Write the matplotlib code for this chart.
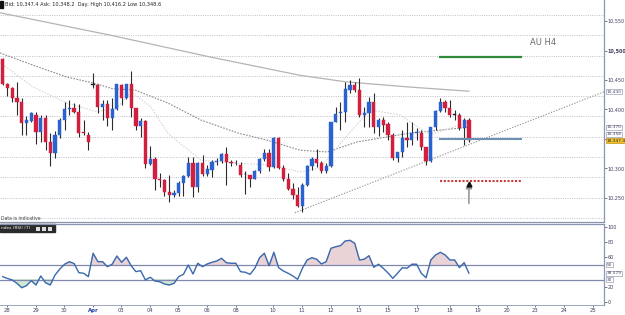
import matplotlib
matplotlib.use("Agg")
import matplotlib.pyplot as plt
import numpy as np

# ---------------- data (AU H4 candles) ----------------
opens = [10485, 10444, 10436, 10419, 10412, 10377, 10381, 10391, 10362, 10385,
         10345, 10326, 10357, 10382, 10401, 10403, 10396, 10362, 10357, 10442,
         10442, 10404, 10409, 10385, 10400, 10441, 10419, 10443, 10402, 10372,
         10381, 10307, 10316, 10283, 10280, 10261, 10255, 10258, 10275, 10287,
         10309, 10269, 10309, 10291, 10297, 10311, 10313, 10325, 10311, 10309,
         10306, 10290, 10289, 10283, 10295, 10316, 10327, 10302, 10351, 10300,
         10282, 10266, 10255, 10236, 10272, 10304, 10316, 10310, 10295, 10304,
         10379, 10394, 10395, 10433, 10441, 10433, 10391, 10394, 10413, 10370,
         10383, 10375, 10357, 10317, 10328, 10351, 10348, 10361, 10361, 10336,
         10313, 10370, 10398, 10413, 10402, 10391, 10391, 10368, 10383]
highs = [10488, 10445, 10438, 10446, 10419, 10389, 10396, 10396, 10391, 10391,
         10360, 10364, 10385, 10413, 10416, 10411, 10410, 10382, 10362, 10462,
         10443, 10416, 10416, 10419, 10444, 10444, 10444, 10466, 10403, 10385,
         10382, 10338, 10320, 10292, 10283, 10289, 10264, 10278, 10289, 10320,
         10320, 10311, 10323, 10306, 10314, 10317, 10326, 10337, 10314, 10314,
         10311, 10295, 10289, 10297, 10317, 10333, 10333, 10353, 10354, 10306,
         10292, 10276, 10269, 10275, 10306, 10319, 10333, 10312, 10309, 10379,
         10405, 10413, 10447, 10450, 10447, 10453, 10404, 10422, 10428, 10385,
         10388, 10379, 10360, 10328, 10366, 10379, 10378, 10368, 10365, 10337,
         10370, 10399, 10419, 10416, 10416, 10399, 10394, 10385, 10385]
lows = [10441, 10423, 10412, 10391, 10357, 10357, 10379, 10341, 10345, 10332,
        10304, 10317, 10351, 10365, 10391, 10394, 10353, 10357, 10332, 10436,
        10394, 10382, 10372, 10365, 10399, 10408, 10418, 10388, 10366, 10353,
        10300, 10306, 10264, 10269, 10253, 10244, 10252, 10253, 10253, 10286,
        10252, 10261, 10287, 10287, 10286, 10306, 10309, 10272, 10304, 10306,
        10286, 10257, 10269, 10282, 10293, 10313, 10295, 10300, 10299, 10279,
        10264, 10249, 10235, 10227, 10270, 10297, 10303, 10293, 10293, 10303,
        10378, 10365, 10379, 10428, 10430, 10388, 10371, 10370, 10360, 10355,
        10362, 10348, 10314, 10311, 10319, 10337, 10340, 10348, 10331, 10306,
        10311, 10365, 10396, 10396, 10388, 10383, 10365, 10340, 10345]
closes = [10444, 10436, 10419, 10412, 10377, 10382, 10394, 10362, 10385, 10345,
          10326, 10357, 10382, 10400, 10403, 10396, 10361, 10360, 10345, 10442,
          10404, 10409, 10385, 10400, 10443, 10419, 10443, 10402, 10372, 10381,
          10307, 10316, 10283, 10280, 10261, 10255, 10258, 10276, 10287, 10309,
          10269, 10309, 10291, 10299, 10311, 10313, 10325, 10311, 10309, 10310,
          10289, 10290, 10283, 10295, 10316, 10327, 10302, 10351, 10300, 10282,
          10266, 10255, 10236, 10272, 10304, 10316, 10310, 10295, 10304, 10379,
          10392, 10395, 10434, 10441, 10433, 10391, 10394, 10413, 10370, 10383,
          10374, 10357, 10317, 10328, 10351, 10348, 10361, 10362, 10336, 10313,
          10370, 10398, 10413, 10402, 10391, 10391, 10368, 10383, 10348]

rsi = [33.9, 31.5, 29.5, 25.1, 19.3, 22.0, 28.6, 22.9, 34.8, 25.9,
       22.9, 36.1, 44.0, 50.3, 53.7, 51.3, 39.2, 38.4, 33.9, 64.8,
       53.7, 53.7, 47.1, 50.3, 61.2, 52.9, 59.5, 48.4, 40.5, 41.8,
       29.5, 33.1, 28.2, 27.2, 24.2, 22.9, 25.1, 33.9, 37.0, 49.3,
       37.4, 51.6, 47.1, 50.7, 52.9, 54.6, 58.2, 52.4, 51.6, 51.6,
       40.5, 39.7, 37.0, 45.0, 59.0, 64.8, 48.4, 66.1, 45.8, 41.4,
       38.4, 34.8, 30.4, 45.0, 56.0, 59.0, 56.9, 50.7, 53.7, 71.4,
       73.5, 74.9, 81.1, 82.0, 78.0, 56.0, 56.9, 61.6, 46.3, 50.3,
       45.0, 38.8, 31.7, 38.4, 45.8, 45.0, 50.3, 50.3, 38.4, 32.5,
       56.0, 62.6, 66.1, 62.6, 56.0, 56.0, 45.8, 52.4, 38.6]

# moving averages read at a few bar positions
ma_long_idx = [-0.6, 22.6, 43.6, 62.5, 72.0, 85.6, 98.0]
ma_long = [10564, 10526, 10489, 10458, 10447, 10438, 10431]
ma_mid_idx = [-0.6, 6.4, 13.5, 19.0, 23.2, 27.8, 34.7, 41.7, 49.5, 55.6, 62.5, 68.2, 74.5, 85.6, 98.0]
ma_mid = [10496, 10475, 10455, 10445, 10435, 10433, 10411, 10382, 10360, 10348, 10331, 10328, 10345, 10360, 10370]
ma_short_idx = [-0.6, 6.4, 13.5, 19.8, 24.2, 27.0, 31.2, 34.7, 38.3, 41.7, 49.5, 56.2, 62.5, 66.7, 72.0, 77.2, 83.5, 89.8, 98.0]
ma_short = [10480, 10438, 10411, 10396, 10404, 10430, 10404, 10360, 10336, 10314, 10309, 10306, 10294, 10301, 10352, 10399, 10391, 10357, 10379]

trend_idx = [61.4, 126.4]
trend_price = [10225, 10430]

target_price = 10489.5
entry_price = 10349.5
stop_price = 10279.3
level_idx = [91.9, 109.0]
arrow_idx = 98
arrow_from, arrow_to = 10241, 10277

price_ticks = [10250, 10300, 10350, 10400, 10450, 10500, 10550]
price_labels = ["10,250", "10,300", "", "10,400", "10,450", "10,500", "10,550"]
date_pos = [0.9, 7.0, 12.9, 19.0, 24.9, 31.0, 36.9, 43.0, 49.0, 56.8, 62.9, 69.0, 74.9, 81.0, 87.1, 94.0, 99.9, 106.0, 111.9, 118.0, 124.1]
date_labels = ["28", "29", "30", "Apr", "03", "04", "05", "06", "08", "10", "11", "12", "13", "15", "17", "18", "19", "20", "23", "24", "25"]
rsi_ticks = [0, 20, 60, 80, 100]

header = "Bid: 10,347.4 Ask: 10,348.2  Day: High 10,416.2 Low 10,348.6"

# ---------------- figure ----------------
W, H = 625, 315
fig = plt.figure(figsize=(W / 100, H / 100), dpi=100)
fig.patch.set_facecolor("white")
plt.rcParams['font.family'] = ['DejaVu Sans']

def fy(py):  # pixel-from-top -> figure fraction
    return 1 - py / H

ax = fig.add_axes([0, fy(221), 604 / W, 221 / H])
ar = fig.add_axes([0, fy(305), 604 / W, 81 / H])

x = np.arange(len(opens))
o = np.array(opens, float); c = np.array(closes, float)
h = np.array(highs, float); l = np.array(lows, float)

bull = "#2a62cf"; bear = "#d21f3e"
cols = []
for oo, cc in zip(o, c):
    if cc > oo:
        cols.append(bull)
    elif cc < oo:
        cols.append(bear)
    else:
        cols.append("#202020")

ax.vlines(x, l, h, colors="#2b2b2b", linewidth=0.8, zorder=3)
body_b = np.minimum(o, c)
body_h = np.maximum(np.abs(c - o), 0.9)
ax.bar(x, body_h, bottom=body_b, width=0.68, color=cols, edgecolor=cols, linewidth=0.3, zorder=4)

# grid
for gp in np.arange(10216.1, 10580, 34.42):
    ax.axhline(gp, color="#b8b8c8", linestyle=(0, (1.2, 1.5)), linewidth=0.6, zorder=1)

# MAs
ax.plot(ma_long_idx, ma_long, color="#b4b4b4", linewidth=0.9, zorder=2)
ax.plot(ma_mid_idx, ma_mid, color="#8a8a8a", linewidth=0.8, linestyle=(0, (1.5, 1.2)), zorder=2)
ax.plot(ma_short_idx, ma_short, color="#d6d6d6", linewidth=0.8, linestyle=(0, (1.5, 1.2)), zorder=2)
ax.plot(trend_idx, trend_price, color="#9a9a9a", linewidth=0.8, linestyle=(0, (1.2, 1.3)), zorder=2)

ax.plot(level_idx, [target_price] * 2, color="#2f8a3a", linewidth=1.6, zorder=5)
ax.plot(level_idx, [entry_price] * 2, color="#6f8fb3", linewidth=1.5, zorder=5)
ax.plot(level_idx, [stop_price] * 2, color="#c83c3c", linewidth=1.5, linestyle=(0, (1, 0.8)), zorder=5)
ax.annotate("", xy=(arrow_idx, arrow_to), xytext=(arrow_idx, arrow_from),
            arrowprops=dict(arrowstyle="-|>,head_length=0.35,head_width=0.18", color="#9a9a9a", lw=1.2,
                            shrinkA=0, shrinkB=0), zorder=6)
ax.plot([arrow_idx], [arrow_to - 2.5], marker="^", color="#111111", markersize=3.5, zorder=7)

ax.text(110.8, 10514, "AU H4", fontsize=6, color="#6a6a6a", va="center", ha="left")

xl = (-0.57, 126.4)
ax.set_xlim(*xl)
ax.set_ylim(10211, 10585.6)
ax.yaxis.tick_right()
ax.set_yticks(price_ticks)
ax.set_yticklabels(price_labels)
ax.tick_params(axis="y", labelsize=3.5, colors="#404060", length=1.8, width=0.5, pad=0.8)
for tl in ax.get_yticklabels():
    if tl.get_text() == "10,500":
        tl.set_fontweight("bold")
ax.set_xticks([])
for s in ["left", "top", "bottom"]:
    ax.spines[s].set_visible(False)
ax.spines["right"].set_color("#8a96b4")
ax.spines["right"].set_linewidth(0.9)

# header
fig.patches.append(plt.Rectangle((0, fy(8)), 3 / W, 7 / H, transform=fig.transFigure, color="#111111"))
fig.text(5 / W, fy(4.5), header, fontsize=3.6, color="#222222", va="center", ha="left")
fig.text(1 / W, fy(218), "Data is indicative", fontsize=3.3, color="#444444", va="center", ha="left")

# right-hand value boxes
def vbox(axis, yv, txt, fc="white", ec="#9aa0b0", tc="#404060"):
    axis.text(1.0045, yv, txt, transform=axis.get_yaxis_transform(), fontsize=3.1, color=tc,
              va="center", ha="left", clip_on=False,
              bbox=dict(boxstyle="square,pad=0.12", fc=fc, ec=ec, lw=0.5))

vbox(ax, 10430, "10,430")
vbox(ax, 10370, "10,370")
vbox(ax, 10358, "10,358")
vbox(ax, 10347.4, "10,347.4", fc="#f2c230", ec="#c09010", tc="#202020")

# separator
fig.add_artist(plt.Line2D([0, 604 / W], [fy(221.8), fy(221.8)], color="#8894b0", linewidth=0.9))
fig.add_artist(plt.Line2D([0, 604 / W], [fy(223.6), fy(223.6)], color="#8894b0", linewidth=0.9))

# ---------------- RSI ----------------
r = np.array(rsi, float)
ar.fill_between(x, r, 50, where=r > 50, interpolate=True, color="#ead3d6", zorder=1)
ar.fill_between(x, r, 30, where=r < 30, interpolate=True, color="#d3e8d3", zorder=1)
ar.plot(x, r, color="#3a6aae", linewidth=1.0, zorder=3)
ar.axhline(50, color="#8088b0", linewidth=0.9, zorder=2)
ar.axhline(30, color="#8088b0", linewidth=0.9, zorder=2)
ar.set_xlim(*xl)
ar.set_ylim(-3.6, 103.6)
ar.yaxis.tick_right()
ar.set_yticks(rsi_ticks)
ar.tick_params(axis="y", labelsize=3.5, colors="#404060", length=1.8, width=0.5, pad=0.8)
ar.set_xticks(date_pos)
ar.set_xticklabels(date_labels)
ar.tick_params(axis="x", labelsize=3.8, colors="#404060", length=1.5, width=0.5, pad=1)
for tl in ar.get_xticklabels():
    if tl.get_text() == "Apr":
        tl.set_color("#2040a0"); tl.set_fontweight("bold")
for s in ["left", "top"]:
    ar.spines[s].set_visible(False)
ar.spines["right"].set_color("#8a96b4"); ar.spines["right"].set_linewidth(0.9)
ar.spines["bottom"].set_color("#8a96b4"); ar.spines["bottom"].set_linewidth(0.6)

vbox(ar, 50, "50")
vbox(ar, 38.579, "38.579")
vbox(ar, 30, "30")

# RSI title box
fig.patches.append(plt.Rectangle((0, fy(232)), 55 / W, 8 / H, transform=fig.transFigure, color="#2a2a2a"))
fig.text(1 / W, fy(228), "ndex (RSI) (7)", fontsize=3.1, color="white", va="center", ha="left")
for k in range(3):
    fig.patches.append(plt.Rectangle(((36 + 6 * k) / W, fy(230.5)), 4 / W, 4 / H,
                                     transform=fig.transFigure, fc="#dddddd", ec="none"))

fig.savefig("out.png", dpi=100)
